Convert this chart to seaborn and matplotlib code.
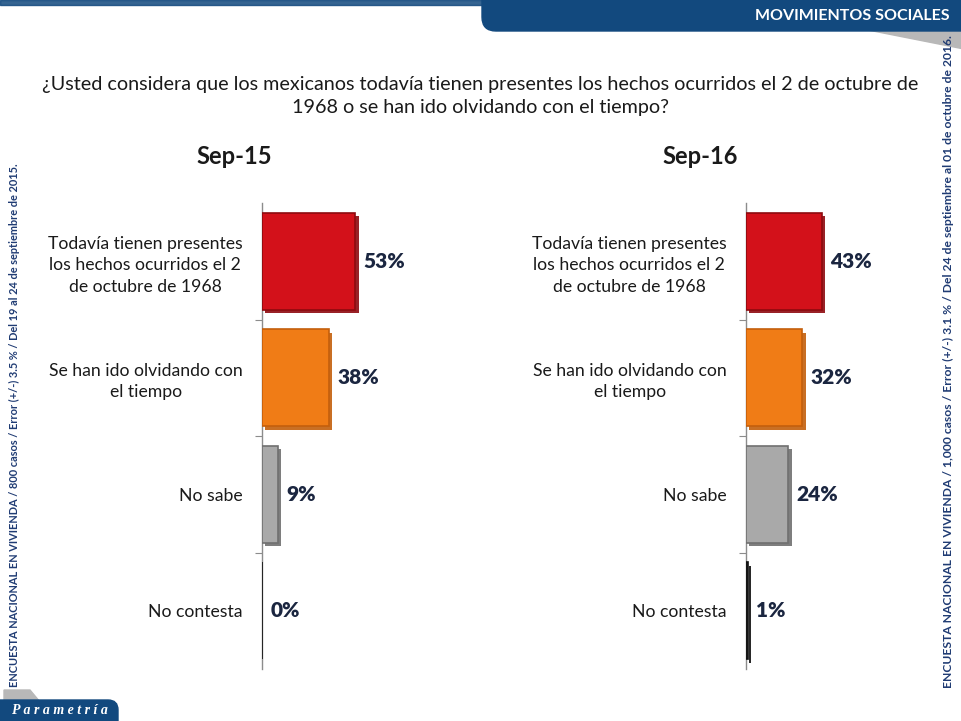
import pandas as pd
import matplotlib
matplotlib.use("Agg")
import matplotlib.pyplot as plt
import matplotlib.patheffects as pe
import seaborn as sns
from matplotlib.patches import FancyBboxPatch, Rectangle, Polygon

# Data
categories = ["Todavía tienen presentes\nlos hechos ocurridos el 2\nde octubre de 1968",
              "Se han ido olvidando con\nel tiempo",
              "No sabe",
              "No contesta"]
sep15 = [53, 38, 9, 0]
sep16 = [43, 32, 24, 1]
panel_titles = ["Sep-15", "Sep-16"]

bar_colors = ["#D3111A", "#F07C16", "#A9A9A9", "#2B2B2B"]
edge_colors = ["#8E0A0F", "#C45F0C", "#707070", "#111111"]
navy = "#12497E"

question = ("¿Usted considera que los mexicanos todavía tienen presentes los hechos ocurridos el 2 de octubre de\n"
            "1968 o se han ido olvidando con el tiempo?")
header = "MOVIMIENTOS SOCIALES"
note_left = "ENCUESTA NACIONAL EN VIVIENDA / 800 casos / Error (+/-) 3.5 % / Del 19 al 24 de septiembre de 2015."
note_right = ("ENCUESTA NACIONAL EN VIVIENDA / 1,000 casos / Error (+/-) 3.1 % / "
              "Del 24 de septiembre al 01 de octubre de 2016.")
brand = "P a r a m e t r í a"

sns.set_theme(style="white")
plt.rcParams["font.family"] = ["Lato", "DejaVu Sans"]

W, H = 961, 721
fig = plt.figure(figsize=(W / 100, H / 100), dpi=100)


def box(x0, y0, w, h):
    # pixel box (top-left origin) -> figure fraction
    return [x0 / W, 1 - (y0 + h) / H, w / W, h / H]


# background layer in pixel coordinates
bg = fig.add_axes([0, 0, 1, 1], zorder=0)
bg.set_xlim(0, W)
bg.set_ylim(H, 0)
bg.axis("off")

# header banner
bg.add_patch(Rectangle((0, 0), W, 5, color=navy, alpha=0.85))
bg.add_patch(Polygon([(860, 28), (961, 28), (961, 48)], color="#B8B8B8"))
bg.add_patch(FancyBboxPatch((482, -30), 520, 61, boxstyle="round,pad=0,rounding_size=14", color=navy))
bg.text(950, 16, header, color="white", fontsize=11.5, fontweight="bold", ha="right", va="center")

# bottom-left brand tab
bg.add_patch(Polygon([(4, 690), (30, 690), (40, 702), (4, 702)], color="#B8B8B8"))
bg.add_patch(FancyBboxPatch((-30, 700), 148, 50, boxstyle="round,pad=0,rounding_size=10", color=navy))
bg.text(12, 711, brand, color="white", fontsize=10, fontstyle="italic", fontweight="bold",
        family=["Liberation Serif", "DejaVu Serif"], ha="left", va="center")

# side notes
bg.text(14, 425, note_left, rotation=90, fontsize=7.9, fontweight="bold", color="#1F3B73",
        ha="center", va="center")
bg.text(948, 362, note_right, rotation=90, fontsize=8.7, fontweight="bold", color="#1F3B73",
        ha="center", va="center")

# question
bg.text(480, 96, question, fontsize=14.2, color="#1A1A1A", ha="center", va="center", linespacing=1.45)

scale = 1.76  # pixels per percentage point
ax_w = 170
panels = [(262, sep15, 234), (746, sep16, 700)]

for (x0, vals, tx), title in zip(panels, panel_titles):
    ax = fig.add_axes(box(x0, 203, ax_w, 466), zorder=2)
    ax.patch.set_alpha(0)
    df = pd.DataFrame({"cat": categories, "val": vals})
    sns.barplot(data=df, y="cat", x="val", hue="cat", palette=bar_colors, legend=False,
                orient="h", width=0.83, saturation=1, ax=ax)
    for patch, ec in zip(ax.patches, edge_colors):
        patch.set_edgecolor(ec)
        patch.set_linewidth(1.2)
        patch.set_path_effects([pe.SimplePatchShadow(offset=(2.5, -2.5), shadow_rgbFace=ec, alpha=0.9),
                                pe.Normal()])
    ax.set_xlim(0, ax_w / scale)
    ax.set_ylim(3.5, -0.5)
    ax.set_xlabel("")
    ax.set_ylabel("")
    ax.set_xticks([])
    for s in ["top", "right", "bottom"]:
        ax.spines[s].set_visible(False)
    ax.spines["left"].set_color("#8C8C8C")
    ax.spines["left"].set_linewidth(1)
    ax.spines["left"].set_zorder(0.5)
    ax.tick_params(axis="y", which="major", length=0, pad=14, labelsize=12.7, labelcolor="#1A1A1A")
    ax.set_yticks([0.5, 1.5, 2.5], minor=True)
    ax.tick_params(axis="y", which="minor", length=5, width=0.8, color="#8C8C8C", left=True)
    for lab in ax.get_yticklabels():
        lab.set_multialignment("center")
        lab.set_linespacing(1.4)
    for cont, v in zip(ax.containers, vals):
        ax.bar_label(cont, labels=[f"{v}%"], padding=6, fontsize=15, fontweight="heavy", color="#1B2640")
    bg.text(tx, 157, title, fontsize=17, fontweight="bold", color="#1A1A1A", ha="center", va="center")

fig.savefig("out.png", dpi=100)
